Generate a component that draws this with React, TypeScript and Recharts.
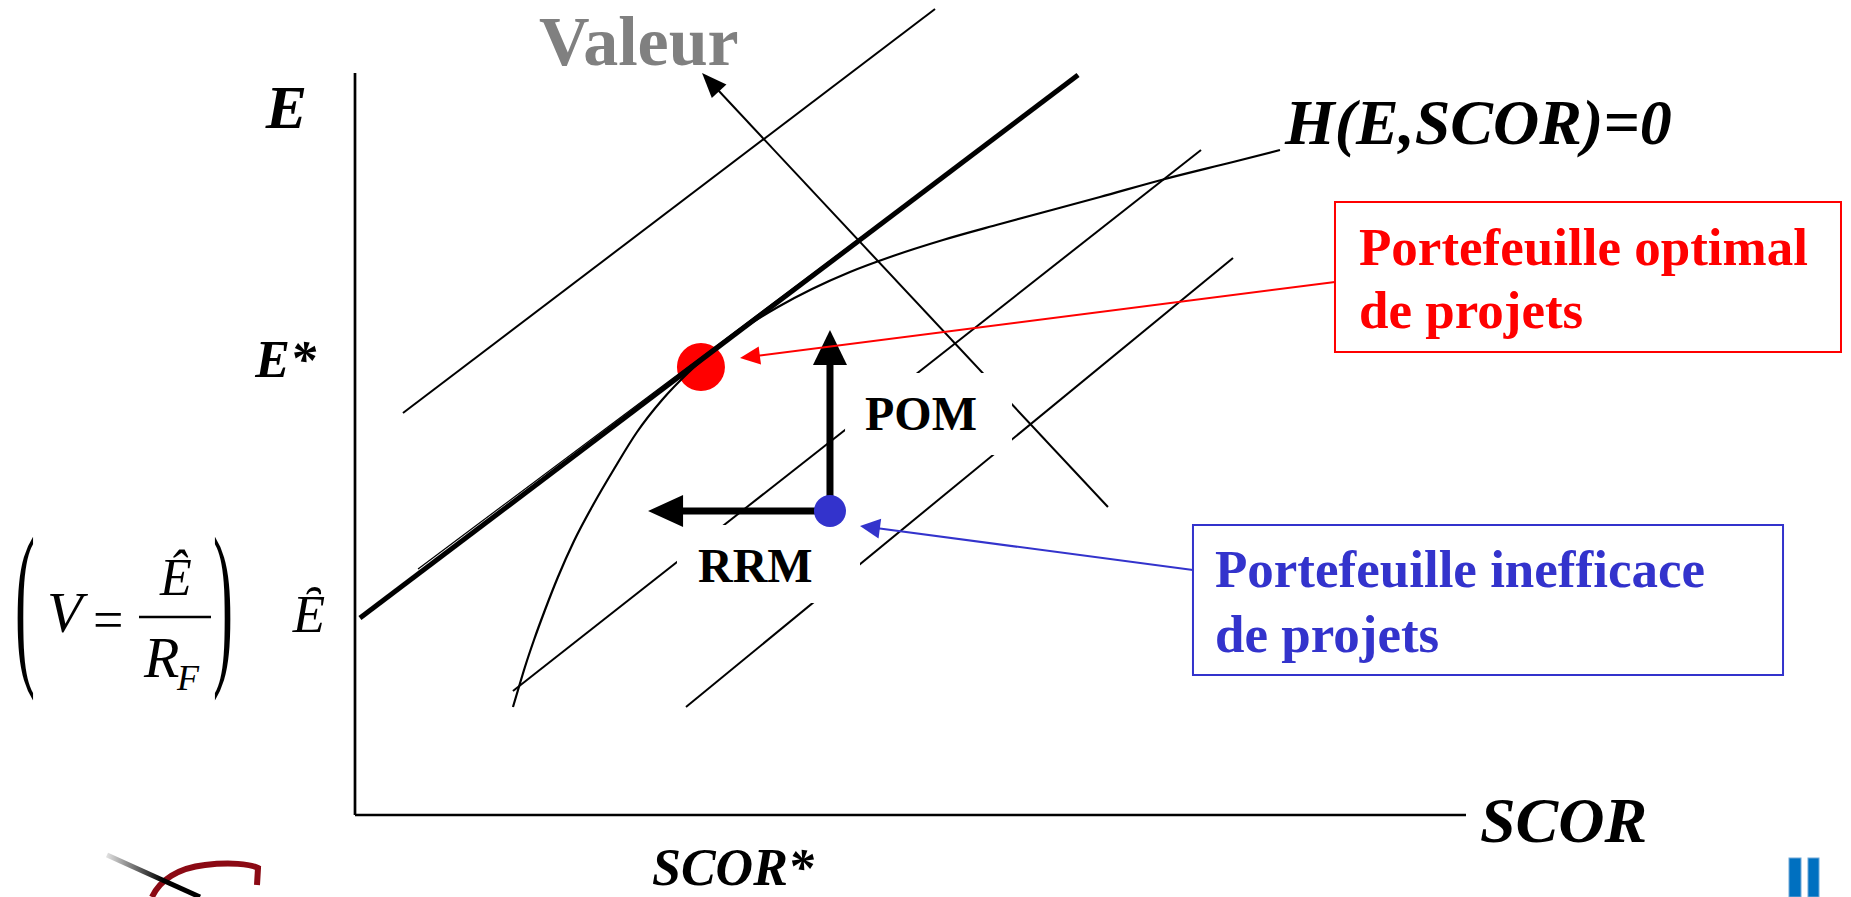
import React from 'react';
import { ComposedChart, XAxis, YAxis, Line, ReferenceLine, ReferenceDot, ReferenceArea } from 'recharts';

const FONT = "'Liberation Serif', 'Times New Roman', Times, serif";

// Frontier H(E,SCOR)=0 (SCOR, E)
const frontierScor = [14.36, 14.82, 15.45, 16.27, 17.27, 18.45, 19.91, 21.64, 23.55, 25.64, 27.91, 30.27, 32.91, 35.64, 38.45, 41.55, 45.0, 48.91, 53.45, 58.64, 67.73, 73.64, 79.82, 84.09];
const frontierE = [21.6, 25.0, 29.6, 35.0, 41.0, 47.6, 54.8, 62.0, 69.2, 76.6, 83.0, 88.4, 93.4, 97.8, 101.6, 105.2, 108.6, 111.8, 115.0, 118.2, 123.6, 127.2, 130.6, 133.0];
const frontier = frontierScor.map((s, i) => ({ scor: s, e: frontierE[i] }));

// iso-value lines: [scorStart, eStart, scorEnd, eEnd]
const isoLines = [
  [4.36, 80.4, 52.73, 161.2],
  [14.36, 24.8, 76.91, 133.0],
  [30.09, 21.6, 79.82, 111.4],
];
const tangentLine = [0.45, 39.4, 65.73, 148.0];
const tangentTrace = [5.73, 49.2, 65.73, 148.0];
const valeurArrow = [68.45, 61.6, 31.55, 148.4];

// axes extent
const yAxisTop = 148.4;
const xAxisEnd = 101;

// portfolios
const optimal = [31.45, 89.6];
const inefficient = [43.18, 60.8];
const pomTip = [43.18, 97.0];
const rrmTip = [26.64, 60.8];
const redPointer = [89.09, 106.6, 35.0, 91.4];
const bluePointer = [76.18, 49.0, 45.91, 57.8];

// text boxes [x1, x2, y1, y2]
const pomBox = [44.55, 59.73, 72.0, 88.4];
const rrmBox = [29.27, 45.91, 42.4, 58.0];
const redBox = [89.09, 135.09, 92.6, 122.6];
const blueBox = [76.18, 129.82, 28.0, 58.0];
const redBoxLines = ['Portefeuille optimal', 'de projets'];
const blueBoxLines = ['Portefeuille inefficace', 'de projets'];

// axis ticks
const yTickValues = [38.6, 89.6, 141.6];
const yTickLabels = ['\u0206', 'E*', 'E'];
const xTickValues = [31.45];
const xTickLabels = ['SCOR*'];

function arrowShape(len: number, half: number, color: string, width: number) {
  return (p: any) => {
    const x1 = Number(p.x1), y1 = Number(p.y1), x2 = Number(p.x2), y2 = Number(p.y2);
    const dx = x2 - x1, dy = y2 - y1;
    const l = Math.hypot(dx, dy) || 1;
    const ux = dx / l, uy = dy / l;
    const bx = x2 - ux * len, by = y2 - uy * len;
    const px = -uy, py = ux;
    const pts = `${x2},${y2} ${bx + px * half},${by + py * half} ${bx - px * half},${by - py * half}`;
    return (
      <g>
        <line x1={x1} y1={y1} x2={bx + ux * 2} y2={by + uy * 2} stroke={color} strokeWidth={width} />
        <polygon points={pts} fill={color} />
      </g>
    );
  };
}

function YTick(props: any) {
  const { x, y, payload } = props;
  const i = yTickValues.indexOf(payload.value);
  const base = { fontFamily: FONT, fill: '#000' } as any;
  if (i === 0) {
    return (
      <g>
        <text x={x - 30} y={y + 10} textAnchor="end" fontSize={53} fontStyle="italic" {...base}>{yTickLabels[0]}</text>
        <text transform={`translate(${x - 340},${y + 40}) scale(1,3)`} fontSize={60} {...base}>(</text>
        <text transform={`translate(${x - 142},${y + 40}) scale(1,3)`} fontSize={60} {...base}>)</text>
        <text x={x - 308} y={y + 10} fontSize={58} fontStyle="italic" {...base}>V</text>
        <text x={x - 262} y={y + 16} fontSize={54} {...base}>=</text>
        <line x1={x - 216} x2={x - 144} y1={y - 5} y2={y - 5} stroke="#000" strokeWidth={2.5} />
        <text x={x - 179} y={y - 27} textAnchor="middle" fontSize={52} fontStyle="italic" {...base}>Ê</text>
        <text x={x - 211} y={y + 55} fontSize={58} fontStyle="italic" {...base}>R</text>
        <text x={x - 178} y={y + 68} fontSize={36} fontStyle="italic" {...base}>F</text>
      </g>
    );
  }
  if (i === 1) {
    return <text x={x - 39} y={y + 10} textAnchor="end" fontSize={52} fontWeight="bold" fontStyle="italic" {...base}>{yTickLabels[1]}</text>;
  }
  return <text x={x - 48} y={y + 21} textAnchor="end" fontSize={62} fontWeight="bold" fontStyle="italic" {...base}>{yTickLabels[2]}</text>;
}

function XTick(props: any) {
  const { x, y, payload } = props;
  const i = xTickValues.indexOf(payload.value);
  return (
    <text x={x + 32} y={y + 70} textAnchor="middle" fontSize={52} fontWeight="bold" fontStyle="italic" fontFamily={FONT} fill="#000">
      {xTickLabels[i]}
    </text>
  );
}

function boxShape(lines: string[], color: string, border: string | null, size: number, padX: number, firstBase: number, lineGap: number) {
  return (p: any) => (
    <g>
      <rect x={p.x} y={p.y} width={p.width} height={p.height} fill="#fff" stroke={border || 'none'} strokeWidth={border ? 2 : 0} />
      {lines.map((t, k) => (
        <text key={k} x={p.x + padX} y={p.y + firstBase + k * lineGap} fontSize={size} fontWeight="bold" fontFamily={FONT} fill={color}>
          {t}
        </text>
      ))}
    </g>
  );
}

function seg(a: number[]) {
  return [{ x: a[0], y: a[1] }, { x: a[2], y: a[3] }];
}

function Decor() {
  return (
    <svg width={1851} height={897} style={{ position: 'absolute', left: 0, top: 0, pointerEvents: 'none' }}>
      <defs>
        <linearGradient id="lg" x1="0" y1="0" x2="1" y2="0">
          <stop offset="0" stopColor="#e0e0e0" />
          <stop offset="0.6" stopColor="#000" />
          <stop offset="1" stopColor="#000" />
        </linearGradient>
      </defs>
      <path d="M152,897 C160,880 178,868 205,865 C230,862 250,864 258,868 L257,885" stroke="#8B0A14" strokeWidth={6} fill="none" />
      <line x1={107} y1={855} x2={200} y2={897} stroke="url(#lg)" strokeWidth={5} />
      <rect x={1789} y={858} width={12} height={39} fill="#0070C0" stroke="#6fa8d8" strokeWidth={1} />
      <rect x={1808} y={858} width={11} height={39} fill="#0070C0" stroke="#6fa8d8" strokeWidth={1} />
    </svg>
  );
}

export default function App() {
  return (
    <div style={{ position: 'absolute', left: 0, top: 0, width: 1851, height: 897, background: '#fff', overflow: 'hidden' }}>
      <ComposedChart width={1851} height={897} margin={{ top: 0, right: 0, bottom: 0, left: 0 }}>
        <XAxis type="number" dataKey="scor" domain={[0, 136]} ticks={xTickValues} interval={0} height={82}
          axisLine={false} tickLine={false} tickSize={0} tickMargin={0} tick={(p: any) => <XTick {...p} />} allowDataOverflow />
        <YAxis type="number" dataKey="e" domain={[0, 163]} ticks={yTickValues} interval={0} width={355}
          axisLine={false} tickLine={false} tickSize={0} tickMargin={0} tick={(p: any) => <YTick {...p} />} allowDataOverflow />

        <ReferenceDot x={optimal[0]} y={optimal[1]} r={24} fill="#FF0000" stroke="none" ifOverflow="visible" zIndex={300} />

        {/* axes */}
        <ReferenceLine segment={[{ x: 0, y: 0 }, { x: 0, y: yAxisTop }]} stroke="#000" strokeWidth={2.7} ifOverflow="visible" zIndex={400} />
        <ReferenceLine segment={[{ x: 0, y: 0 }, { x: xAxisEnd, y: 0 }]} stroke="#000" strokeWidth={2.7} ifOverflow="visible" zIndex={400} />

        {isoLines.map((l, k) => (
          <ReferenceLine key={'iso' + k} segment={seg(l)} stroke="#000" strokeWidth={2} ifOverflow="visible" zIndex={400} />
        ))}
        <ReferenceLine segment={seg(tangentTrace)} stroke="#000" strokeWidth={1.2} ifOverflow="visible" zIndex={400} />
        <ReferenceLine segment={seg(tangentLine)} stroke="#000" strokeWidth={5} ifOverflow="visible" zIndex={400} />
        <ReferenceLine segment={seg(valeurArrow)} stroke="#000" strokeWidth={2} ifOverflow="visible" zIndex={400}
          shape={arrowShape(25, 10, '#000', 2)} />

        <Line data={frontier} dataKey="e" type="monotone" stroke="#000" strokeWidth={2.2} dot={false} activeDot={false}
          isAnimationActive={false} zIndex={400} />

        {/* white text boxes */}
        <ReferenceArea x1={pomBox[0]} x2={pomBox[1]} y1={pomBox[2]} y2={pomBox[3]} ifOverflow="visible" zIndex={450}
          shape={boxShape(['POM'], '#000', null, 48, 20, 57, 0)} />
        <ReferenceArea x1={rrmBox[0]} x2={rrmBox[1]} y1={rrmBox[2]} y2={rrmBox[3]} ifOverflow="visible" zIndex={450}
          shape={boxShape(['RRM'], '#000', null, 48, 21, 57, 0)} />

        {/* POM / RRM arrows */}
        <ReferenceLine segment={[{ x: inefficient[0], y: inefficient[1] }, { x: pomTip[0], y: pomTip[1] }]} stroke="#000"
          ifOverflow="visible" zIndex={460} shape={arrowShape(35, 17, '#000', 7)} />
        <ReferenceLine segment={[{ x: inefficient[0], y: inefficient[1] }, { x: rrmTip[0], y: rrmTip[1] }]} stroke="#000"
          ifOverflow="visible" zIndex={460} shape={arrowShape(35, 16, '#000', 7)} />
        <ReferenceDot x={inefficient[0]} y={inefficient[1]} r={16} fill="#3333CC" stroke="none" ifOverflow="visible" zIndex={470} />

        {/* callouts */}
        <ReferenceLine segment={seg(redPointer)} stroke="#FF0000" ifOverflow="visible" zIndex={480} shape={arrowShape(20, 9, '#FF0000', 2)} />
        <ReferenceLine segment={seg(bluePointer)} stroke="#3333CC" ifOverflow="visible" zIndex={480} shape={arrowShape(20, 10, '#3333CC', 2)} />
        <ReferenceArea x1={redBox[0]} x2={redBox[1]} y1={redBox[2]} y2={redBox[3]} ifOverflow="visible" zIndex={480}
          shape={boxShape(redBoxLines, '#FF0000', '#FF0000', 53, 24, 63, 63)} />
        <ReferenceArea x1={blueBox[0]} x2={blueBox[1]} y1={blueBox[2]} y2={blueBox[3]} ifOverflow="visible" zIndex={480}
          shape={boxShape(blueBoxLines, '#3333CC', '#3333CC', 53, 22, 62, 65)} />

        {/* labels */}
        <ReferenceDot x={valeurArrow[2]} y={valeurArrow[3]} r={0} ifOverflow="visible" zIndex={490}
          shape={(p: any) => (
            <text x={p.cx - 163} y={p.cy - 8} fontSize={70} fontWeight="bold" fontFamily={FONT} fill="#808080">Valeur</text>
          )} />
        <ReferenceDot x={frontierScor[frontierScor.length - 1]} y={frontierE[frontierE.length - 1]} r={0} ifOverflow="visible" zIndex={490}
          shape={(p: any) => (
            <text x={p.cx + 5} y={p.cy - 6} fontSize={64} fontWeight="bold" fontStyle="italic" fontFamily={FONT} fill="#000">H(E,SCOR)=0</text>
          )} />
        <ReferenceDot x={xAxisEnd} y={0} r={0} ifOverflow="visible" zIndex={490}
          shape={(p: any) => (
            <text x={p.cx + 14} y={p.cy + 27} fontSize={64} fontWeight="bold" fontStyle="italic" fontFamily={FONT} fill="#000">SCOR</text>
          )} />
      </ComposedChart>
      <Decor />
    </div>
  );
}
